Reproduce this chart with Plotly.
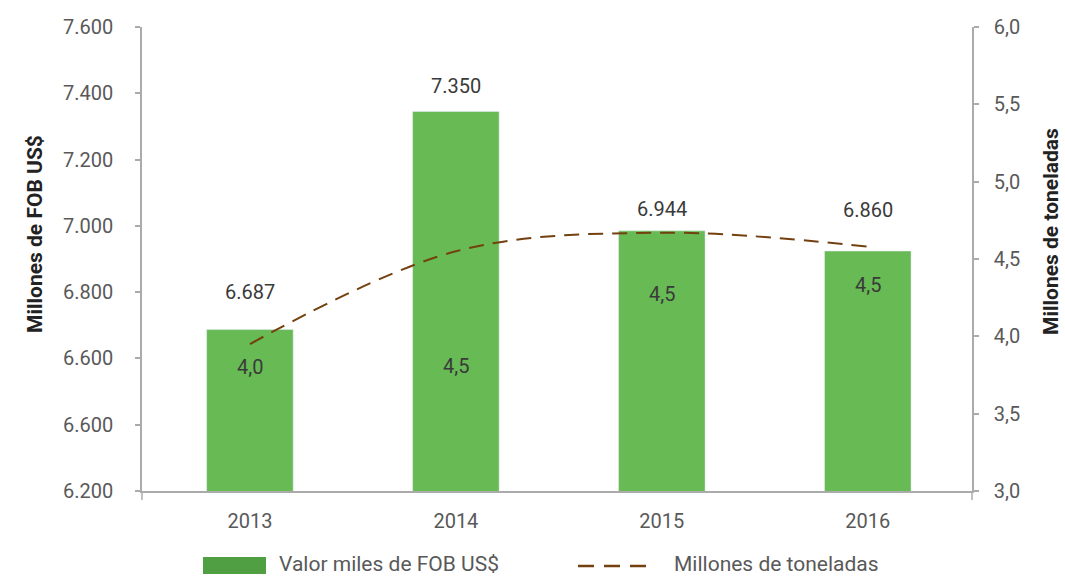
import plotly.graph_objects as go

# ---------------- data ----------------
years = ["2013", "2014", "2015", "2016"]
fob_values = [6687, 7345, 6985, 6924]            # bar heights (left axis)
fob_labels = ["6.687", "7.350", "6.944", "6.860"]  # labels printed above bars
tons_values = [3.95, 4.55, 4.67, 4.58]            # dashed line (right axis)
tons_labels = ["4,0", "4,5", "4,5", "4,5"]        # labels printed inside bars

left_tickvals = [6200, 6400, 6600, 6800, 7000, 7200, 7400, 7600]
left_ticktext = ["6.200", "6.600", "6.600", "6.800", "7.000", "7.200", "7.400", "7.600"]

bar_name = "Valor miles de FOB US$"
line_name = "Millones de toneladas"
left_title = "Millones de FOB US$"
right_title = "Millones de toneladas"

# ---------------- style ----------------
FONT = "Roboto"
BAR_GREEN = "#67BA54"
LEGEND_GREEN = "#50A043"
LINE_BROWN = "#73400F"
AXIS_GRAY = "#ABABAB"
TICK_COLOR = "#595959"
LABEL_COLOR = "#3A3A3A"

top_label_shift = [38, 26, 21.5, 41.5]      # px above bar top
inner_label_shift = [-23, -115, -61, -38.5]  # px relative to line value

W, H = 1065, 577
ML, MR, MT, MB = 142, 93, 27, 86
PW, PH = W - ML - MR, H - MT - MB


def px(xp):
    return (xp - ML) / PW


def py(yp):
    return (H - MB - yp) / PH


fig = go.Figure()
fig.add_trace(go.Bar(
    x=years, y=fob_values, name=bar_name, marker_color=BAR_GREEN,
    width=0.42, showlegend=False,
))
fig.add_trace(go.Scatter(
    x=years, y=tons_values, name=line_name, yaxis="y2", mode="lines",
    line=dict(color=LINE_BROWN, width=2, dash="15px,9px", shape="spline", smoothing=1.0),
    showlegend=False,
))

annotations = []
for i in range(len(years)):
    annotations.append(dict(
        x=i, y=fob_values[i], xref="x", yref="y", text=fob_labels[i],
        showarrow=False, yshift=top_label_shift[i], yanchor="middle",
        font=dict(family=FONT, size=20, color=LABEL_COLOR),
    ))
    annotations.append(dict(
        x=i, y=tons_values[i], xref="x", yref="y2", text=tons_labels[i],
        showarrow=False, yshift=inner_label_shift[i], yanchor="middle",
        font=dict(family=FONT, size=20, color=LABEL_COLOR),
    ))

# axis titles
annotations.append(dict(
    x=px(35), y=py(234), xref="paper", yref="paper", text=f"<b>{left_title}</b>",
    textangle=-90, showarrow=False, xanchor="center", yanchor="middle",
    font=dict(family=FONT, size=21, color="#222222"),
))
annotations.append(dict(
    x=px(1051), y=py(232), xref="paper", yref="paper", text=f"<b>{right_title}</b>",
    textangle=-90, showarrow=False, xanchor="center", yanchor="middle",
    font=dict(family=FONT, size=21, color="#222222"),
))

# manual legend text
annotations.append(dict(
    x=px(277), y=py(564), xref="paper", yref="paper", text=bar_name,
    showarrow=False, xanchor="left", yanchor="middle",
    font=dict(family=FONT, size=21, color=TICK_COLOR),
))
annotations.append(dict(
    x=px(672), y=py(564), xref="paper", yref="paper", text=line_name,
    showarrow=False, xanchor="left", yanchor="middle",
    font=dict(family=FONT, size=21, color=TICK_COLOR),
))

shapes = [
    # legend symbols
    dict(type="rect", xref="paper", yref="paper", x0=px(203), x1=px(266), y0=py(557), y1=py(574),
         fillcolor=LEGEND_GREEN, line=dict(width=0)),
    dict(type="line", xref="paper", yref="paper", x0=px(578), x1=px(647), y0=py(566), y1=py(566),
         line=dict(color=LINE_BROWN, width=2.5, dash="16px,10px")),
    # axis extensions
    dict(type="line", xref="paper", yref="paper", x0=px(142), x1=px(142), y0=py(491), y1=py(500),
         line=dict(color=AXIS_GRAY, width=1.5)),
    dict(type="line", xref="paper", yref="paper", x0=px(972), x1=px(972), y0=py(491), y1=py(500),
         line=dict(color=AXIS_GRAY, width=1.5)),
    dict(type="line", xref="paper", yref="paper", x0=px(972), x1=px(977), y0=py(491), y1=py(491),
         line=dict(color=AXIS_GRAY, width=1.5)),
]

fig.update_layout(
    width=W, height=H, autosize=False,
    margin=dict(l=ML, r=MR, t=MT, b=MB, pad=0),
    paper_bgcolor="white", plot_bgcolor="white",
    separators=",.",
    font=dict(family=FONT, size=20, color=TICK_COLOR),
    showlegend=False,
    xaxis=dict(
        type="category", range=[-0.524, 3.506], showline=True, linecolor=AXIS_GRAY,
        linewidth=1.5, ticks="", showgrid=False, zeroline=False,
        tickfont=dict(family=FONT, size=20, color=TICK_COLOR), ticklabelstandoff=11,
    ),
    yaxis=dict(
        range=[6200, 7600], tickvals=left_tickvals, ticktext=left_ticktext,
        showline=True, linecolor=AXIS_GRAY, linewidth=1.5, ticks="outside",
        ticklen=5, tickcolor=AXIS_GRAY, tickwidth=1.5, showgrid=False, zeroline=False,
        tickfont=dict(family=FONT, size=20, color=TICK_COLOR), ticklabelstandoff=18,
    ),
    yaxis2=dict(
        range=[3, 6], dtick=0.5, tick0=3, tickformat=".1f", overlaying="y", side="right",
        showline=True, linecolor=AXIS_GRAY, linewidth=1.5, ticks="outside",
        ticklen=5, tickcolor=AXIS_GRAY, tickwidth=1.5, showgrid=False, zeroline=False,
        tickfont=dict(family=FONT, size=20, color=TICK_COLOR), ticklabelstandoff=11,
    ),
    annotations=annotations,
    shapes=shapes,
)

fig.write_html(
    "out.html",
    config={"displayModeBar": False},
    post_script="document.body.style.margin='0';document.body.style.overflow='hidden';",
)
